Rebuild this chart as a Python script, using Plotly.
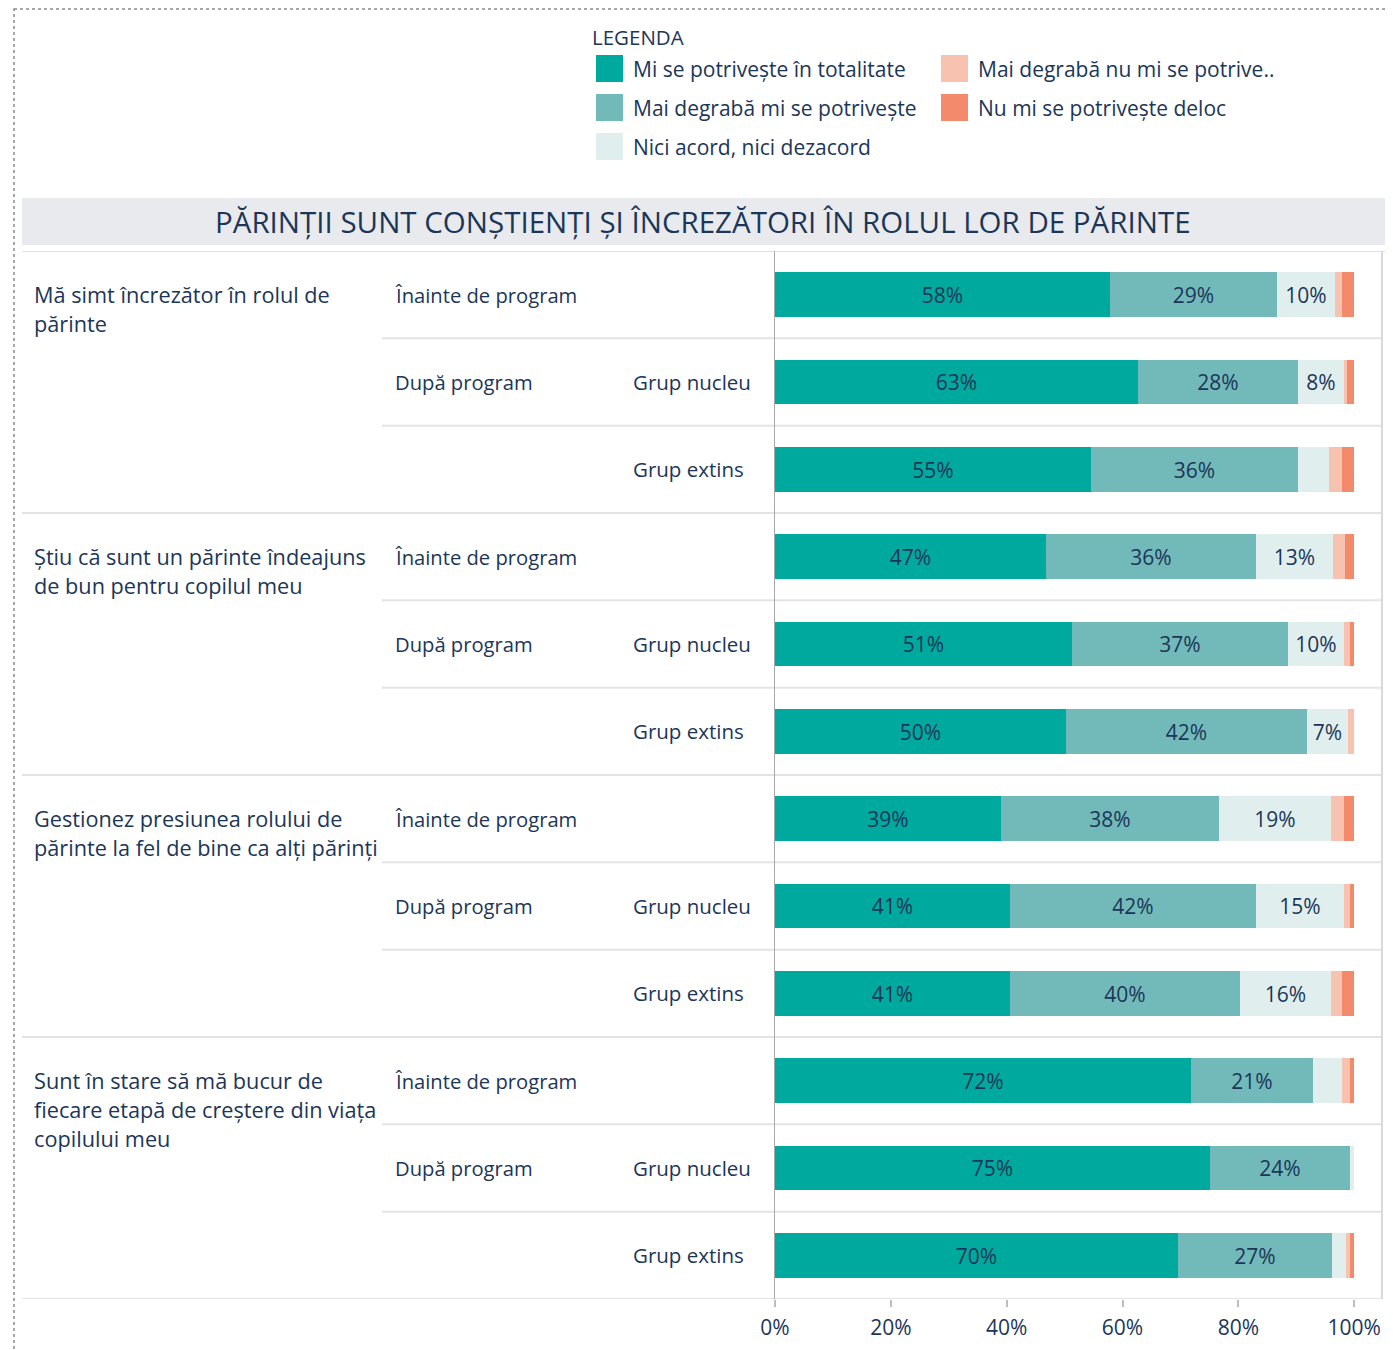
import plotly.graph_objects as go

# ---------------- data ----------------
questions = [
    ["Mă simt încrezător în rolul de", "părinte"],
    ["Știu că sunt un părinte îndeajuns", "de bun pentru copilul meu"],
    ["Gestionez presiunea rolului de", "părinte la fel de bine ca alți părinți"],
    ["Sunt în stare să mă bucur de", "fiecare etapă de creștere din viața", "copilului meu"],
]
phases = ["Înainte de program", "După program", ""]
groups = ["", "Grup nucleu", "Grup extins"]

series_names = [
    "Mi se potrivește în totalitate",
    "Mai degrabă mi se potrivește",
    "Nici acord, nici dezacord",
    "Mai degrabă nu mi se potrive..",
    "Nu mi se potrivește deloc",
]
series_colors = ["#00A99D", "#72BABA", "#E0EFEE", "#F8C2B0", "#F48A6C"]

totalitate = [57.9, 62.6, 54.6, 46.8, 51.3, 50.3, 39.0, 40.6, 40.6, 71.8, 75.1, 69.6]
degraba_da = [28.8, 27.7, 35.7, 36.2, 37.3, 41.6, 37.7, 42.4, 39.6, 21.1, 24.2, 26.6]
neutru     = [10.0, 8.0, 5.4, 13.4, 9.7, 7.1, 19.3, 15.3, 15.8, 5.0, 0.7, 2.4]
degraba_nu = [1.2, 0.4, 2.2, 2.0, 1.0, 1.0, 2.2, 1.0, 1.9, 1.4, 0.0, 0.7]
deloc      = [2.1, 1.3, 2.1, 1.6, 0.7, 0.0, 1.8, 0.7, 2.1, 0.7, 0.0, 0.7]
series_values = [totalitate, degraba_da, neutru, degraba_nu, deloc]

tick_vals = [0, 20, 40, 60, 80, 100]
tick_text = ["0%", "20%", "40%", "60%", "80%", "100%"]
title_text = "PĂRINȚII SUNT CONȘTIENȚI ȘI ÎNCREZĂTORI ÎN ROLUL LOR DE PĂRINTE"

# ---------------- layout helpers ----------------
OFF = 8                      # default page body margin
W, H = 1393 - OFF, 1350 - OFF
PLOT_L, PLOT_R, PLOT_T, PLOT_B = 775, 1382, 251, 1299   # page pixel coords
L, T = PLOT_L - OFF, PLOT_T - OFF
R, B = W - (PLOT_R - OFF), H - (PLOT_B - OFF)
PW, PH = PLOT_R - PLOT_L, PLOT_B - PLOT_T
NAVY = "#1c3658"
FONT = "Open Sans"


def fx(px):
    return (px - PLOT_L) / PW


def fy(py):
    return 1 - (py - PLOT_T) / PH


n_rows = len(questions) * len(phases)
rows = list(range(n_rows))

fig = go.Figure()
for name, color, vals in zip(series_names, series_colors, series_values):
    fig.add_trace(go.Bar(
        y=rows, x=vals, orientation="h", name=name,
        marker=dict(color=color, line=dict(width=0)),
        width=0.515,
        text=[f"{v:.0f}%" if v >= 6 else "" for v in vals],
        textposition="inside", insidetextanchor="middle", textangle=0,
        insidetextfont=dict(family=FONT, size=21, color=NAVY),
        showlegend=False, hoverinfo="skip",
    ))

shapes = []
annotations = []

# dotted frame
shapes.append(dict(type="rect", xref="paper", yref="paper",
                   x0=fx(14), x1=fx(1420), y0=fy(9), y1=fy(1400),
                   line=dict(color="#8a8a8a", width=1.5, dash="dot"), layer="below"))
# title band
shapes.append(dict(type="rect", xref="paper", yref="paper",
                   x0=fx(22), x1=fx(1385), y0=fy(245), y1=fy(198),
                   fillcolor="#E8EAEE", line=dict(width=0), layer="below"))
annotations.append(dict(text=title_text, xref="paper", yref="paper",
                        x=fx(703), y=fy(221), xanchor="center", yanchor="middle",
                        showarrow=False, font=dict(family=FONT, size=29.5, color=NAVY)))

# row separators
for i in range(n_rows + 1):
    full = (i % 3 == 0)
    x0 = fx(22) if full else fx(382)
    x1 = fx(1385) if i == 0 else fx(1382)
    shapes.append(dict(type="line", xref="paper", yref="y",
                       x0=x0, x1=x1, y0=i - 0.5, y1=i - 0.5,
                       line=dict(color="#E3E3E3", width=2), layer="below"))
# right border
shapes.append(dict(type="line", xref="paper", yref="y",
                   x0=fx(1382), x1=fx(1382), y0=-0.5, y1=n_rows - 0.5,
                   line=dict(color="#D9D9D9", width=2), layer="below"))

# left-side labels
for qi, lines in enumerate(questions):
    base = qi * 3
    for k, line in enumerate(lines):
        annotations.append(dict(text=line, xref="paper", yref="y",
                                x=fx(32), y=base, xanchor="left", yanchor="middle",
                                yshift=-29 * k, showarrow=False,
                                font=dict(family=FONT, size=21.7, color=NAVY)))
    for j in range(3):
        if phases[j]:
            annotations.append(dict(text=phases[j], xref="paper", yref="y",
                                    x=fx(393), y=base + j, xanchor="left", yanchor="middle",
                                    showarrow=False, font=dict(family=FONT, size=20.2, color=NAVY)))
        if groups[j]:
            annotations.append(dict(text=groups[j], xref="paper", yref="y",
                                    x=fx(631), y=base + j, xanchor="left", yanchor="middle",
                                    showarrow=False, font=dict(family=FONT, size=20.5, color=NAVY)))

# manual legend
annotations.append(dict(text="LEGENDA", xref="paper", yref="paper",
                        x=fx(590), y=fy(37), xanchor="left", yanchor="middle",
                        showarrow=False, font=dict(family=FONT, size=20.5, color=NAVY)))
legend_order = [0, 3, 1, 4, 2]
legend_pos = [(596, 69), (941, 69), (596, 108), (941, 108), (596, 147)]
for idx, (lx, ly) in zip(legend_order, legend_pos):
    shapes.append(dict(type="rect", xref="paper", yref="paper",
                       x0=fx(lx), x1=fx(lx + 27), y0=fy(ly + 13), y1=fy(ly - 14),
                       fillcolor=series_colors[idx], line=dict(width=0)))
    annotations.append(dict(text=series_names[idx], xref="paper", yref="paper",
                            x=fx(lx + 35), y=fy(ly), xanchor="left", yanchor="middle",
                            showarrow=False, font=dict(family=FONT, size=21, color=NAVY)))

fig.update_layout(
    width=W, height=H,
    margin=dict(l=L, r=R, t=T, b=B, pad=0, autoexpand=False),
    barmode="stack", bargap=0,
    plot_bgcolor="white", paper_bgcolor="white",
    shapes=shapes, annotations=annotations,
    font=dict(family=FONT, color=NAVY),
    xaxis=dict(range=[0, 104.8], tickvals=tick_vals, ticktext=tick_text,
               ticks="outside", ticklen=7, tickwidth=2, tickcolor="#BDBDBD",
               ticklabelstandoff=3, automargin=False,
               showgrid=False, zeroline=False, showline=False,
               tickfont=dict(family=FONT, size=21, color=NAVY)),
    yaxis=dict(range=[n_rows - 0.5, -0.5], showticklabels=False, showgrid=False,
               automargin=False,
               zeroline=False, showline=True, linecolor="#A8A8A8", linewidth=1, ticks=""),
)

fig.write_html("out.html")
